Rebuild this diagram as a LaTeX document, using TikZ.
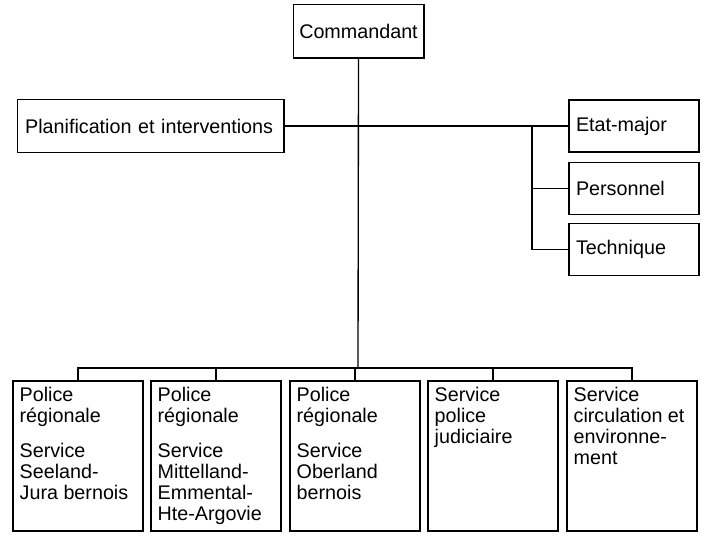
\documentclass[tikz,border=0pt]{standalone}
\usepackage{fontspec}
\setmainfont{Liberation Sans}
\usetikzlibrary{calc}
\tikzset{%
    unit/.style={outer sep=0pt,shape=rectangle,draw,line width=1pt,font=\fontsize{14.8}{15.75}\selectfont},
    head/.style={unit,inner sep=0pt,minimum width=98pt,minimum height=40pt},
    plan box/.style={unit,inner xsep=6pt,inner ysep=0pt,minimum width=200pt,minimum height=40pt,text width=188pt,align=left},
    staff/.style={unit,inner xsep=5.25pt,inner ysep=0pt,minimum width=97.5pt,minimum height=39pt,text width=87pt,align=left},
    service/.style={unit,anchor=north west,inner xsep=5pt,inner ysep=5pt,minimum width=97.5pt,minimum height=112.5pt},
    link/.style={line width=1pt},
}
\newcommand{\boxtext}[1]{\parbox[t][102.5pt][t]{87.5pt}{\raggedright #1}}

\begin{document}
\begin{tikzpicture}[x=0.75pt,y=-0.75pt]
        \useasboundingbox (0,0) rectangle (705,535);

        \node [head] (cmd) at (358.5,31.5) {Commandant};
        \node [plan box] (plan) at (150.5,126) {Planification et interventions};
        \node [staff] (etat) at (634,126) {Etat-major};
        \node [staff] (pers) at (634,188.5) {Personnel};
        \node [staff] (tech) at (634,249.5) {Technique};

        \node [service] (reg1) at (13,381) {\boxtext{Police\\régionale\\[10.5pt]Service\\Seeland-\\Jura bernois}};
        \node [service] (reg2) at (151,381) {\boxtext{Police\\régionale\\[10.5pt]Service\\Mittelland-\\Emmental-\\Hte-Argovie}};
        \node [service] (reg3) at (290,381) {\boxtext{Police\\régionale\\[10.5pt]Service\\Oberland\\bernois}};
        \node [service] (pj) at (428,381) {\boxtext{Service\\police\\judiciaire}};
        \node [service] (circ) at (567,381) {\boxtext{Service\\circulation et\\environne-\\ment}};

        \coordinate (bus) at (358,368);
        \coordinate (branch) at (532,126);

        \draw [link] (cmd.south) -- (bus);
        \draw [link] (plan.east) -- (etat.west);
        \draw [link] (branch) |- (tech.west);
        \draw [link] (branch |- pers.west) -- (pers.west);

        \draw [link] (reg1.north) |- (bus) -| (circ.north);
        \foreach \n in {reg2,reg3,pj}
            \draw [link] (\n.north) -- (\n.north |- bus);
    \end{tikzpicture}
\end{document}
